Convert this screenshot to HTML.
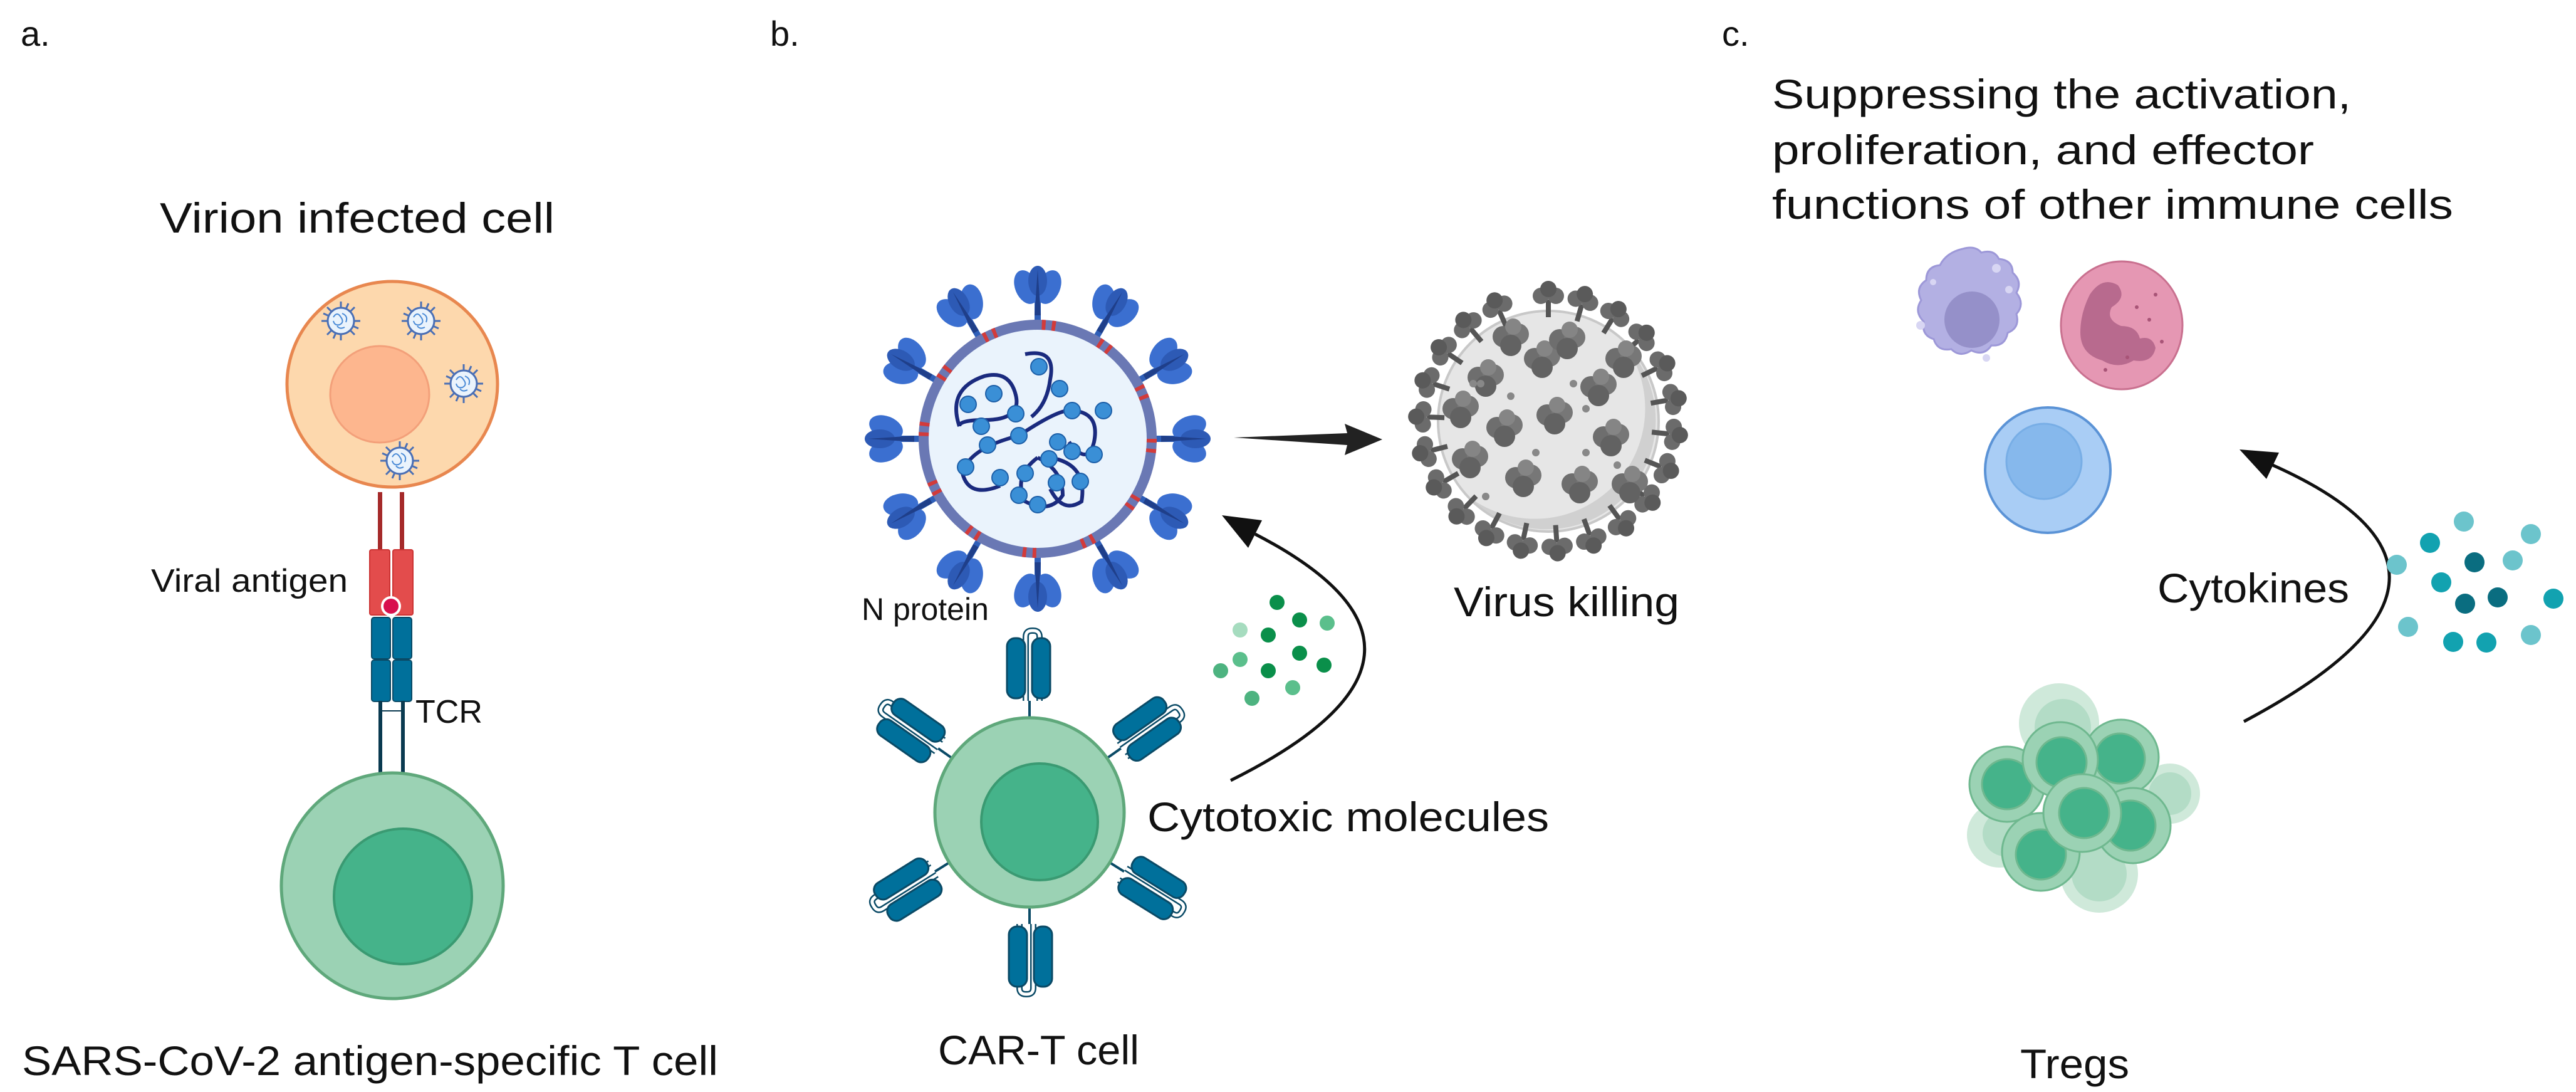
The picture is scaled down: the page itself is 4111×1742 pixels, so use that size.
<!DOCTYPE html>
<html><head><meta charset="utf-8"><style>
html,body{margin:0;padding:0;background:#fff;}
svg{display:block;}
text{font-family:"Liberation Sans",sans-serif;fill:#111;}
</style></head><body>
<svg width="4111" height="1742" viewBox="0 0 4111 1742" xmlns="http://www.w3.org/2000/svg">
<defs>
  <g id="spike">
    <rect x="-5" y="-55" width="10" height="57" fill="#2f5fb8"/>
    <ellipse cx="-18" cy="-60" rx="18" ry="28" fill="#3b6fd0" transform="rotate(-22 -18 -60)"/>
    <ellipse cx="18" cy="-60" rx="18" ry="28" fill="#3b6fd0" transform="rotate(22 18 -60)"/>
    <ellipse cx="0" cy="-70" rx="15" ry="24" fill="#2d5ab5"/>
    <path d="M-5,-15 L0,-88 L5,-15Z" fill="#1f3f8a"/>
  </g>
  <g id="dspike">
    <rect x="-4" y="-26" width="8" height="28" fill="#555"/>
    <circle cx="-12" cy="-32" r="13" fill="#6b6b6b"/>
    <circle cx="12" cy="-32" r="13" fill="#6b6b6b"/>
    <circle cx="0" cy="-43" r="13" fill="#5a5a5a"/>
  </g>
  <g id="clump">
    <circle cx="-12" cy="0" r="17" fill="#6e6e6e"/>
    <circle cx="12" cy="-4" r="17" fill="#777"/>
    <circle cx="0" cy="14" r="17" fill="#626262"/>
    <circle cx="4" cy="-16" r="13" fill="#858585"/>
  </g>
  <g id="mini">
    <g stroke="#4a6fb5" stroke-width="3">
      <line x1="0" y1="-20" x2="0" y2="-31"/><line x1="0" y1="20" x2="0" y2="31"/>
      <line x1="-20" y1="0" x2="-31" y2="0"/><line x1="20" y1="0" x2="31" y2="0"/>
      <line x1="14" y1="14" x2="22" y2="22"/><line x1="-14" y1="14" x2="-22" y2="22"/>
      <line x1="14" y1="-14" x2="22" y2="-22"/><line x1="-14" y1="-14" x2="-22" y2="-22"/>
      <line x1="8" y1="-19" x2="12" y2="-28"/><line x1="-8" y1="19" x2="-12" y2="28"/>
      <line x1="19" y1="8" x2="28" y2="12"/><line x1="-19" y1="-8" x2="-28" y2="-12"/>
    </g>
    <circle r="21" fill="#eaf3fc" stroke="#4a6fb5" stroke-width="3"/>
    <path d="M-12,-6 q6,-10 12,0 q6,8 -2,12 q-8,2 -10,-6 M2,-12 q10,4 6,14 M-6,8 q4,6 12,2" fill="none" stroke="#4a8ad6" stroke-width="2"/>
  </g>
  <g id="car">
    <line x1="0" y1="0" x2="0" y2="-28" stroke="#0a4a66" stroke-width="4"/>
    <path d="M-6,-28 L-6,-130 Q-6,-140 4,-140 L6,-140 Q16,-140 16,-130 L16,-28" fill="none" stroke="#0a4a66" stroke-width="10"/>
    <path d="M-6,-28 L-6,-130 Q-6,-140 4,-140 L6,-140 Q16,-140 16,-130 L16,-28" fill="none" stroke="#fff" stroke-width="5"/>
    <rect x="-36" y="-128" width="29" height="96" rx="13" fill="#00709b" stroke="#0a4a66" stroke-width="3"/>
    <rect x="4" y="-128" width="29" height="96" rx="13" fill="#00709b" stroke="#0a4a66" stroke-width="3"/>
  </g>
</defs>

<!-- Panel a -->
<text x="33" y="73" font-size="56">a.</text>
<text x="255" y="371" font-size="68" textLength="630" lengthAdjust="spacingAndGlyphs">Virion infected cell</text>
<ellipse cx="626" cy="613" rx="168" ry="164" fill="#fdd8ad" stroke="#e8874f" stroke-width="5"/>
<ellipse cx="606" cy="629" rx="79" ry="77" fill="#fdb68e" stroke="#f3a07a" stroke-width="3"/>
<use href="#mini" x="544" y="512"/>
<use href="#mini" x="672" y="512"/>
<use href="#mini" x="740" y="612"/>
<use href="#mini" x="638" y="735"/>
<rect x="603" y="785" width="7" height="95" fill="#a52a2a"/>
<rect x="638" y="785" width="7" height="95" fill="#a52a2a"/>
<rect x="590" y="877" width="32" height="104" rx="3" fill="#e34c4c" stroke="#c33" stroke-width="2"/>
<rect x="627" y="877" width="32" height="104" rx="3" fill="#e34c4c" stroke="#c33" stroke-width="2"/>
<circle cx="624" cy="967" r="16" fill="#fff"/>
<circle cx="624" cy="967" r="12" fill="#d8104e"/>
<rect x="593" y="985" width="30" height="66" rx="4" fill="#00709b" stroke="#0a4a66" stroke-width="2"/>
<rect x="627" y="985" width="30" height="66" rx="4" fill="#00709b" stroke="#0a4a66" stroke-width="2"/>
<rect x="593" y="1053" width="30" height="66" rx="4" fill="#00709b" stroke="#0a4a66" stroke-width="2"/>
<rect x="627" y="1053" width="30" height="66" rx="4" fill="#00709b" stroke="#0a4a66" stroke-width="2"/>
<line x1="607" y1="1118" x2="607" y2="1236" stroke="#0a3a50" stroke-width="6"/>
<line x1="643" y1="1118" x2="643" y2="1236" stroke="#0a3a50" stroke-width="6"/>
<line x1="607" y1="1134" x2="643" y2="1134" stroke="#0a3a50" stroke-width="2"/>
<text x="663" y="1153" font-size="52">TCR</text>
<text x="241" y="944" font-size="52" textLength="314" lengthAdjust="spacingAndGlyphs">Viral antigen</text>
<ellipse cx="626" cy="1413" rx="177" ry="180" fill="#9bd2b4" stroke="#5fa87b" stroke-width="5"/>
<ellipse cx="643" cy="1430" rx="110" ry="108" fill="#45b38a" stroke="#3a9a72" stroke-width="4"/>
<text x="35" y="1715" font-size="66" textLength="1111" lengthAdjust="spacingAndGlyphs">SARS-CoV-2 antigen-specific T cell</text>

<!-- Panel b -->
<text x="1229" y="73" font-size="56">b.</text>
<g transform="translate(1656,700)">
  <g>
    <use href="#spike" transform="rotate(0) translate(0,-182)"/>
    <use href="#spike" transform="rotate(30) translate(0,-182)"/>
    <use href="#spike" transform="rotate(60) translate(0,-182)"/>
    <use href="#spike" transform="rotate(90) translate(0,-182)"/>
    <use href="#spike" transform="rotate(120) translate(0,-182)"/>
    <use href="#spike" transform="rotate(150) translate(0,-182)"/>
    <use href="#spike" transform="rotate(180) translate(0,-182)"/>
    <use href="#spike" transform="rotate(210) translate(0,-182)"/>
    <use href="#spike" transform="rotate(240) translate(0,-182)"/>
    <use href="#spike" transform="rotate(270) translate(0,-182)"/>
    <use href="#spike" transform="rotate(300) translate(0,-182)"/>
    <use href="#spike" transform="rotate(330) translate(0,-182)"/>
  </g>
  <circle r="182" fill="#eaf3fc" stroke="#6a78b4" stroke-width="16"/>
  <circle r="182" fill="none" stroke="#d23b3b" stroke-width="16" stroke-dasharray="6 10 6 74"/>
  <g fill="none" stroke="#1a2a7e" stroke-width="6">
    <path d="M-125,-20 q-20,-60 40,-80 q40,-10 50,30 q10,40 -50,40 q-40,0 -40,10"/>
    <path d="M-20,-135 q50,-10 40,40 q-5,40 -30,60"/>
    <path d="M-30,-5 q60,-40 80,-40 q50,0 40,50 q-10,40 -40,0"/>
    <path d="M-30,-5 q-80,20 -90,60 q10,40 60,20"/>
    <path d="M0,30 q-40,30 -20,70 q40,20 60,-10 q0,-40 -40,-60"/>
    <path d="M20,30 q60,10 50,70 q-30,20 -50,-20"/>
  </g>
  <g fill="#3a8fd6" stroke="#1d5fa8" stroke-width="2">
    <circle cx="-111" cy="-55" r="13"/><circle cx="-70" cy="-72" r="13"/><circle cx="-35" cy="-40" r="13"/>
    <circle cx="-90" cy="-20" r="13"/><circle cx="2" cy="-115" r="13"/><circle cx="35" cy="-80" r="13"/>
    <circle cx="-30" cy="-5" r="13"/><circle cx="55" cy="-45" r="13"/><circle cx="105" cy="-45" r="13"/>
    <circle cx="90" cy="25" r="13"/><circle cx="-80" cy="10" r="13"/><circle cx="-115" cy="45" r="13"/>
    <circle cx="-60" cy="62" r="13"/><circle cx="-20" cy="55" r="13"/><circle cx="18" cy="32" r="13"/>
    <circle cx="32" cy="5" r="13"/><circle cx="55" cy="20" r="13"/><circle cx="30" cy="70" r="13"/>
    <circle cx="0" cy="105" r="13"/><circle cx="68" cy="68" r="13"/><circle cx="-30" cy="90" r="13"/>
  </g>
</g>
<text x="1375" y="989" font-size="50">N  protein</text>
<polygon points="1969,698 2150,691 2146,676 2206,701 2146,726 2150,710" fill="#222"/>
<!-- dead virus -->
<g transform="translate(2471,672)">
  <circle r="176" fill="#e6e6e6" stroke="#c8c8c8" stroke-width="4"/>
  <path d="M120,-125 A176,176 0 0 1 -125,122 A160,160 0 0 0 120,-125Z" fill="#d0d0d0"/>
  <g>
    <use href="#dspike" transform="rotate(0) translate(0,-168)"/>
    <use href="#dspike" transform="rotate(16) translate(0,-168)"/>
    <use href="#dspike" transform="rotate(32) translate(0,-168)"/>
    <use href="#dspike" transform="rotate(48) translate(0,-168)"/>
    <use href="#dspike" transform="rotate(64) translate(0,-168)"/>
    <use href="#dspike" transform="rotate(80) translate(0,-168)"/>
    <use href="#dspike" transform="rotate(96) translate(0,-168)"/>
    <use href="#dspike" transform="rotate(112) translate(0,-168)"/>
    <use href="#dspike" transform="rotate(128) translate(0,-168)"/>
    <use href="#dspike" transform="rotate(144) translate(0,-168)"/>
    <use href="#dspike" transform="rotate(160) translate(0,-168)"/>
    <use href="#dspike" transform="rotate(176) translate(0,-168)"/>
    <use href="#dspike" transform="rotate(192) translate(0,-168)"/>
    <use href="#dspike" transform="rotate(208) translate(0,-168)"/>
    <use href="#dspike" transform="rotate(224) translate(0,-168)"/>
    <use href="#dspike" transform="rotate(240) translate(0,-168)"/>
    <use href="#dspike" transform="rotate(256) translate(0,-168)"/>
    <use href="#dspike" transform="rotate(272) translate(0,-168)"/>
    <use href="#dspike" transform="rotate(288) translate(0,-168)"/>
    <use href="#dspike" transform="rotate(304) translate(0,-168)"/>
    <use href="#dspike" transform="rotate(320) translate(0,-168)"/>
    <use href="#dspike" transform="rotate(336) translate(0,-168)"/>
  </g>
  <use href="#clump" x="-100" y="-70"/><use href="#clump" x="-10" y="-100"/><use href="#clump" x="80" y="-55"/>
  <use href="#clump" x="-70" y="10"/><use href="#clump" x="10" y="-10"/><use href="#clump" x="100" y="25"/>
  <use href="#clump" x="-40" y="90"/><use href="#clump" x="50" y="100"/><use href="#clump" x="-125" y="60"/>
  <use href="#clump" x="30" y="-130"/><use href="#clump" x="-140" y="-20"/><use href="#clump" x="120" y="-100"/>
  <use href="#clump" x="130" y="100"/><use href="#clump" x="-60" y="-135"/>
  <g fill="#888"><circle cx="-60" cy="-40" r="6"/><circle cx="40" cy="-60" r="6"/><circle cx="60" cy="50" r="6"/><circle cx="-20" cy="50" r="6"/><circle cx="110" cy="70" r="6"/><circle cx="-100" cy="120" r="6"/><circle cx="-120" cy="-60" r="6"/><circle cx="-108" cy="-60" r="6"/><circle cx="60" cy="-20" r="6"/></g>
</g>
<text x="2320" y="983" font-size="66" textLength="360" lengthAdjust="spacingAndGlyphs">Virus killing</text>
<!-- curved arrow b -->
<path d="M1964,1245 Q2371,1042 2003,852" fill="none" stroke="#111" stroke-width="5"/>
<polygon points="1950,822 2014,830 1992,874" fill="#111"/>
<g>
  <circle cx="2038" cy="961" r="12" fill="#0a8f4a"/><circle cx="2074" cy="989" r="12" fill="#0a8f4a"/>
  <circle cx="2118" cy="994" r="12" fill="#5bbf8c"/><circle cx="1979" cy="1005" r="12" fill="#a6dcbf"/>
  <circle cx="2024" cy="1013" r="12" fill="#0a8f4a"/><circle cx="2074" cy="1042" r="12" fill="#0a8f4a"/>
  <circle cx="1979" cy="1052" r="12" fill="#5bbf8c"/><circle cx="1948" cy="1070" r="12" fill="#4db380"/>
  <circle cx="2024" cy="1070" r="12" fill="#0a8f4a"/><circle cx="2113" cy="1061" r="12" fill="#0a8f4a"/>
  <circle cx="1998" cy="1114" r="12" fill="#4db380"/><circle cx="2063" cy="1097" r="12" fill="#5bbf8c"/>
</g>
<text x="1831" y="1326" font-size="66" textLength="641" lengthAdjust="spacingAndGlyphs">Cytotoxic molecules</text>
<!-- CAR-T -->
<g transform="translate(1643,1296)">
  <use href="#car" transform="rotate(0) translate(0,-150)"/>
  <use href="#car" transform="rotate(55) translate(0,-150)"/>
  <use href="#car" transform="rotate(122) translate(0,-150)"/>
  <use href="#car" transform="rotate(180) translate(0,-150)"/>
  <use href="#car" transform="rotate(238) translate(0,-150)"/>
  <use href="#car" transform="rotate(305) translate(0,-150)"/>
  <circle r="151" fill="#9bd2b4" stroke="#5fa87b" stroke-width="5"/>
  <circle cx="16" cy="15" r="93" fill="#45b38a" stroke="#3a9a72" stroke-width="4"/>
</g>
<text x="1497" y="1698" font-size="66" textLength="321" lengthAdjust="spacingAndGlyphs">CAR-T cell</text>

<!-- Panel c -->
<text x="2748" y="73" font-size="56">c.</text>
<text x="2828" y="173" font-size="66" textLength="924" lengthAdjust="spacingAndGlyphs">Suppressing the activation,</text>
<text x="2828" y="262" font-size="66" textLength="865" lengthAdjust="spacingAndGlyphs">proliferation, and effector</text>
<text x="2828" y="349" font-size="66" textLength="1087" lengthAdjust="spacingAndGlyphs">functions of other immune cells</text>
<!-- purple -->
<path d="M3132,397 q20,-6 30,6 q20,-6 28,10 q22,2 22,22 q16,14 6,32 q14,18 0,34 q6,22 -14,30 q-4,22 -26,20 q-12,18 -32,8 q-18,12 -32,-2 q-22,4 -28,-16 q-20,-6 -16,-28 q-16,-16 -4,-34 q-10,-20 8,-32 q0,-22 22,-24 q10,-20 36,-26Z" fill="#b3b0e3" stroke="#9d98d8" stroke-width="3"/>
<ellipse cx="3147" cy="510" rx="44" ry="45" fill="#9590c9"/>
<g fill="#d8d6f3"><circle cx="3186" cy="428" r="7"/><circle cx="3206" cy="462" r="6"/><circle cx="3065" cy="519" r="7"/><circle cx="3170" cy="571" r="6"/><circle cx="3085" cy="450" r="5"/></g>
<!-- pink -->
<ellipse cx="3386" cy="519" rx="97" ry="102" fill="#e597b3" stroke="#c9708f" stroke-width="3"/>
<path d="M3335,470 q20,-30 45,-15 q15,20 -10,35 q-10,20 15,30 q25,0 30,20 q20,-5 25,15 q-5,25 -35,20 q-25,15 -50,0 q-35,-10 -35,-45 q0,-30 15,-60Z" fill="#b86a8e"/>
<g fill="#a85477"><circle cx="3410" cy="490" r="3"/><circle cx="3430" cy="510" r="3"/><circle cx="3450" cy="545" r="3"/><circle cx="3395" cy="570" r="3"/><circle cx="3360" cy="590" r="3"/><circle cx="3440" cy="470" r="3"/></g>
<!-- blue -->
<circle cx="3268" cy="750" r="100" fill="#a9cdf5" stroke="#5b93d6" stroke-width="4"/>
<circle cx="3262" cy="736" r="60" fill="#86b8ec" stroke="#78aee6" stroke-width="3"/>
<!-- arrow c -->
<path d="M3581,1151 Q4021,918 3627,742" fill="none" stroke="#111" stroke-width="5"/>
<polygon points="3574,717 3637,722 3617,764" fill="#111"/>
<text x="3443" y="961" font-size="66" textLength="306" lengthAdjust="spacingAndGlyphs">Cytokines</text>
<g>
  <circle cx="3932" cy="832" r="16" fill="#6cc4cc"/><circle cx="4039" cy="852" r="16" fill="#6cc4cc"/>
  <circle cx="3878" cy="866" r="16" fill="#12a2b0"/><circle cx="3825" cy="901" r="16" fill="#6cc4cc"/>
  <circle cx="3949" cy="897" r="16" fill="#0a6d80"/><circle cx="4010" cy="894" r="16" fill="#6cc4cc"/>
  <circle cx="3896" cy="929" r="16" fill="#12a2b0"/><circle cx="3934" cy="963" r="16" fill="#0a6d80"/>
  <circle cx="3986" cy="953" r="16" fill="#0a6d80"/><circle cx="4075" cy="955" r="16" fill="#12a2b0"/>
  <circle cx="3843" cy="1000" r="16" fill="#6cc4cc"/><circle cx="3915" cy="1024" r="16" fill="#12a2b0"/>
  <circle cx="3968" cy="1025" r="16" fill="#12a2b0"/><circle cx="4039" cy="1013" r="16" fill="#6cc4cc"/>
</g>
<!-- Tregs cluster -->
<g>
  <circle cx="3286" cy="1154" r="64" fill="#cfe9da"/><circle cx="3292" cy="1160" r="45" fill="#b3dcc6"/>
  <circle cx="3463" cy="1266" r="48" fill="#cfe9da"/><circle cx="3463" cy="1266" r="34" fill="#b3dcc6"/>
  <circle cx="3191" cy="1332" r="52" fill="#cfe9da"/><circle cx="3200" cy="1330" r="36" fill="#b3dcc6"/>
  <circle cx="3350" cy="1394" r="62" fill="#cfe9da"/><circle cx="3350" cy="1394" r="44" fill="#b3dcc6"/>
  <g stroke="#6fb88f" stroke-width="3">
    <circle cx="3203" cy="1251" r="60" fill="#9bd2b4"/><circle cx="3203" cy="1251" r="40" fill="#45b38a"/>
    <circle cx="3385" cy="1208" r="60" fill="#9bd2b4"/><circle cx="3383" cy="1210" r="40" fill="#45b38a"/>
    <circle cx="3288" cy="1212" r="60" fill="#9bd2b4"/><circle cx="3290" cy="1216" r="40" fill="#45b38a"/>
    <circle cx="3404" cy="1317" r="60" fill="#9bd2b4"/><circle cx="3400" cy="1317" r="40" fill="#45b38a"/>
    <circle cx="3257" cy="1359" r="62" fill="#9bd2b4"/><circle cx="3257" cy="1363" r="40" fill="#45b38a"/>
    <circle cx="3323" cy="1297" r="62" fill="#9bd2b4"/><circle cx="3326" cy="1297" r="40" fill="#45b38a"/>
  </g>
</g>
<text x="3224" y="1720" font-size="66" textLength="174" lengthAdjust="spacingAndGlyphs">Tregs</text>
</svg>
</body></html>
